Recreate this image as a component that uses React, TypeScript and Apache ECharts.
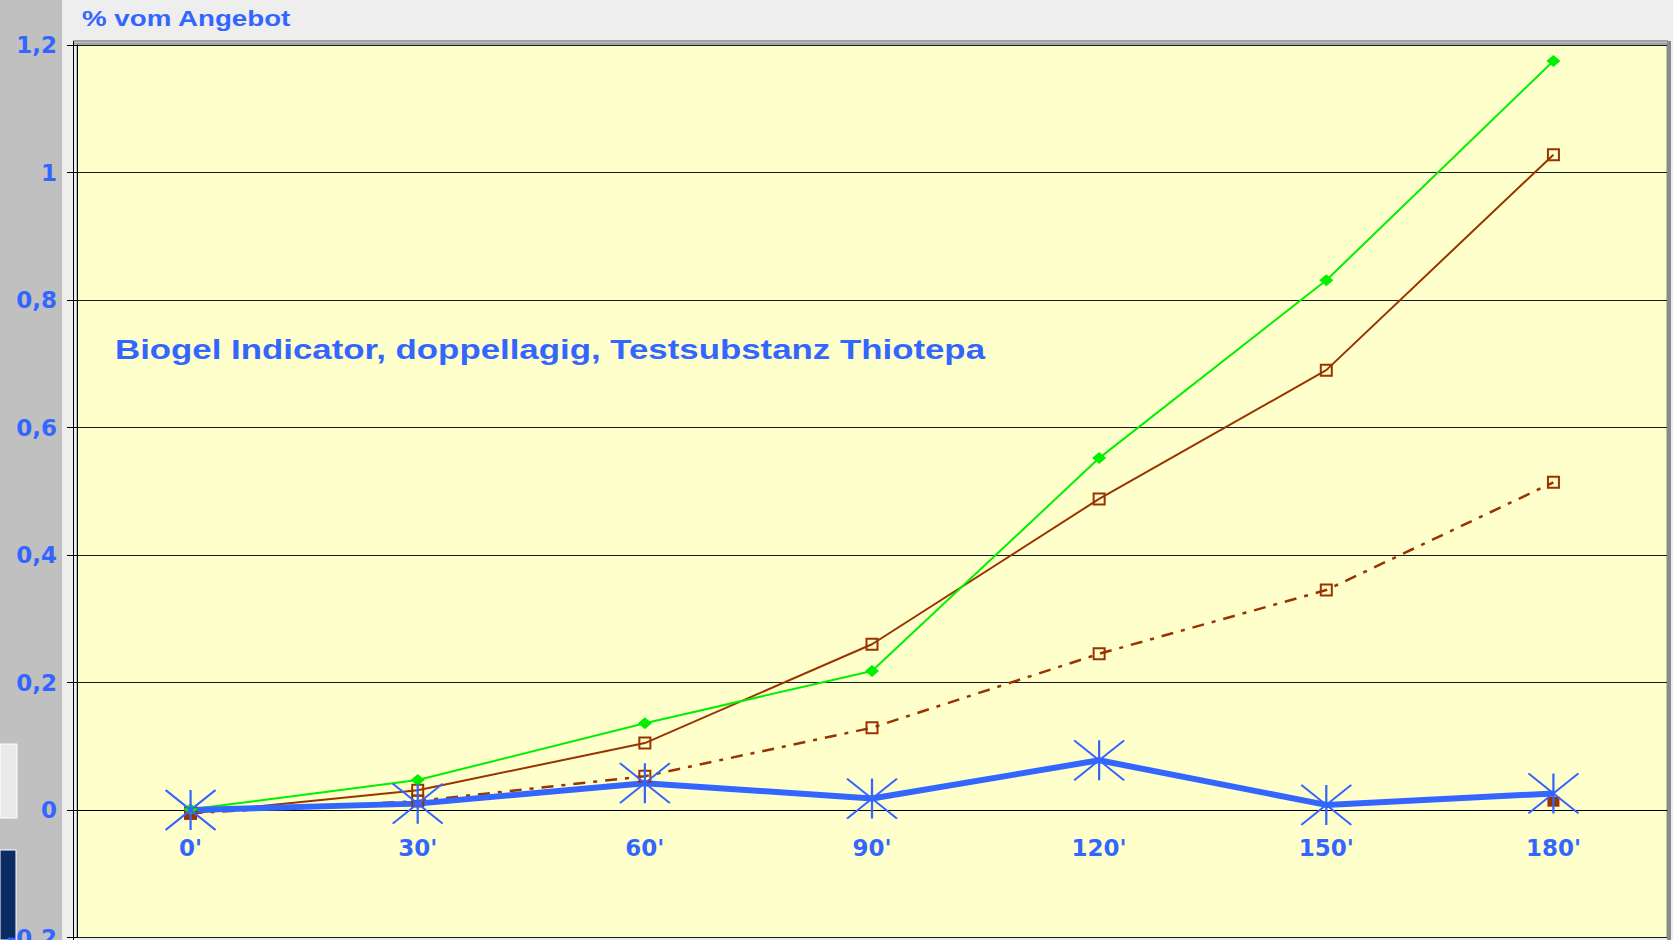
import React, { useEffect, useRef } from "react";
import * as echarts from "echarts";

const categories = ["0'", "30'", "60'", "90'", "120'", "150'", "180'"];
const greenValues = [0.001, 0.047, 0.136, 0.218, 0.552, 0.831, 1.175];
const brownSolidValues = [-0.005, 0.031, 0.105, 0.26, 0.488, 0.69, 1.028];
const brownDashValues = [-0.005, 0.014, 0.053, 0.129, 0.245, 0.345, 0.514];
const brownFilledValues = [-0.005, null, null, null, null, null, 0.013];
const blueValues = [0.0, 0.01, 0.042, 0.018, 0.078, 0.008, 0.026];
const yMin = -0.2;
const yMax = 1.2;
const yInterval = 0.2;
const yAxisTitle = "% vom Angebot";
const annotation = "Biogel Indicator, doppellagig, Testsubstanz Thiotepa";

const BLUE = "#3366FF";
const GREEN = "#00F000";
const BROWN = "#993300";
const FONT = '"Liberation Sans", Arial, sans-serif';
const AXFONT = '"DejaVu Sans", "Liberation Sans", sans-serif';

const STAR = "path://M0,0L45,36M45,0L0,36M22.5,0L22.5,36";

function fmt(v: number): string {
  const r = Math.round(v * 10) / 10;
  return String(r).replace(".", ",");
}

export default function App() {
  const ref = useRef<HTMLDivElement>(null);
  useEffect(() => {
    if (!ref.current) return;
    const chart = echarts.init(ref.current, null, { renderer: "svg" });
    const xAxisBase = {
      type: "category",
      data: categories,
      boundaryGap: true,
      position: "bottom",
      axisLine: { show: true, onZero: false, lineStyle: { color: "#000", width: 1 } },
      axisTick: { show: false },
      splitLine: { show: false },
      axisLabel: {
        color: BLUE,
        fontWeight: "bold",
        fontSize: 23,
        fontFamily: AXFONT,
        margin: 26,
        interval: 0,
      },
    };
    chart.setOption({
      animation: false,
      backgroundColor: "transparent",
      grid: {
        left: 77,
        top: 45,
        right: 6,
        bottom: 2.5,
        show: true,
        backgroundColor: "#FFFFCC",
        borderColor: "#8a8a8a",
        borderWidth: 1,
        containLabel: false,
        outerBoundsMode: "none",
      },
      xAxis: xAxisBase,
      yAxis: {
        type: "value",
        min: yMin,
        max: yMax,
        interval: yInterval,
        axisLine: { show: true, lineStyle: { color: "#000", width: 1 } },
        axisTick: { show: true, length: 10, lineStyle: { color: "#000", width: 1 } },
        splitLine: { show: true, lineStyle: { color: "#1a1a1a", width: 1 } },
        axisLabel: {
          color: BLUE,
          fontWeight: "bold",
          fontSize: 23,
          fontFamily: AXFONT,
          margin: 20,
          showMinLabel: true,
          showMaxLabel: true,
          formatter: (v: number) => fmt(v),
        },
      },
      graphic: {
        elements: [
          { type: "line", shape: { x1: 73.5, y1: 41, x2: 73.5, y2: 940 }, style: { stroke: "#000", lineWidth: 1 } },
          { type: "line", shape: { x1: 73, y1: 41, x2: 1668, y2: 41 }, style: { stroke: "#555", lineWidth: 1 } },
          { type: "line", shape: { x1: 74, y1: 43.5, x2: 1668, y2: 43.5 }, style: { stroke: "#9a9a9a", lineWidth: 2 } },
          { type: "rect", shape: { x: 1667, y: 41, width: 4, height: 899 }, style: { fill: "#8a8a8a" } },
          { type: "rect", shape: { x: 0, y: 744, width: 17, height: 74 }, style: { fill: "#EAEAEA", stroke: "#FFFFFF", lineWidth: 1 } },
          { type: "rect", shape: { x: 0, y: 850, width: 16, height: 90 }, style: { fill: "#0C2B63", stroke: "#FFFFFF", lineWidth: 1 } },
          {
            type: "text",
            x: 82,
            y: 7,
            scaleX: 1.26,
            style: { text: yAxisTitle, fill: BLUE, font: `bold 22px ${FONT}`, verticalAlign: "top" },
          },
          {
            type: "text",
            x: 115,
            y: 350,
            scaleX: 1.29,
            style: { text: annotation, fill: BLUE, font: `bold 27px ${FONT}`, verticalAlign: "middle" },
          },
        ],
      },
      series: [
        {
          type: "line",
          data: brownDashValues,
          symbol: "rect",
          symbolSize: 11,
          showAllSymbol: true,
          lineStyle: { color: BROWN, width: 2.5, type: [12, 8, 4, 8] },
          itemStyle: { color: "transparent", borderColor: BROWN, borderWidth: 2 },
          emphasis: { disabled: true },
        },
        {
          type: "line",
          data: brownFilledValues,
          symbol: "rect",
          symbolSize: [12, 10],
          showAllSymbol: true,
          connectNulls: false,
          lineStyle: { color: BROWN, width: 0 },
          itemStyle: { color: BROWN },
          emphasis: { disabled: true },
        },
        {
          type: "line",
          data: brownSolidValues,
          symbol: "rect",
          symbolSize: 11,
          showAllSymbol: true,
          lineStyle: { color: BROWN, width: 2 },
          itemStyle: { color: "transparent", borderColor: BROWN, borderWidth: 2 },
          emphasis: { disabled: true },
        },
        {
          type: "line",
          data: greenValues,
          symbol: "diamond",
          symbolSize: [14, 12],
          showAllSymbol: true,
          lineStyle: { color: GREEN, width: 2 },
          itemStyle: { color: GREEN },
          emphasis: { disabled: true },
        },
        {
          type: "line",
          data: blueValues,
          symbol: STAR,
          symbolSize: [50, 40],
          showAllSymbol: true,
          lineStyle: { color: BLUE, width: 6 },
          itemStyle: { color: BLUE, borderColor: BLUE, borderWidth: 2 },
          emphasis: { disabled: true },
        },
      ],
    });
    // Move the category axis (line and labels) to the value 0 of the y scale.
    const zeroY = chart.convertToPixel({ yAxisIndex: 0 }, 0) as number;
    const minY = chart.convertToPixel({ yAxisIndex: 0 }, yMin) as number;
    chart.setOption({ xAxis: { ...xAxisBase, offset: zeroY - minY } });
    return () => chart.dispose();
  }, []);
  return (
    <div
      ref={ref}
      style={{
        position: "fixed",
        left: 0,
        top: 0,
        width: 1673,
        height: 940,
        background: "linear-gradient(to right, #C0C0C0 0px, #C0C0C0 62px, #EEEEEE 62px, #EEEEEE 100%)",
      }}
    />
  );
}
